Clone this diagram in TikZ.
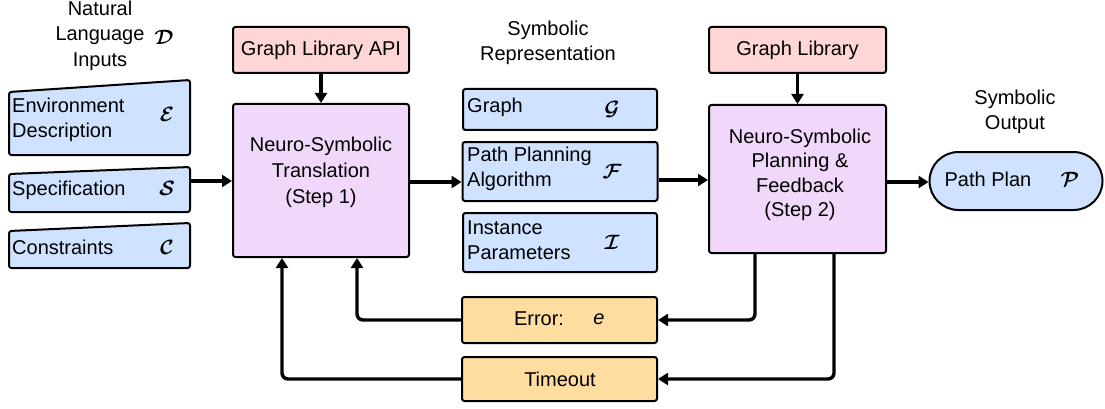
\documentclass[tikz,border=0pt]{standalone}
\usepackage{fontspec}
\usepackage{bm}
\setmainfont{Liberation Sans}
\usetikzlibrary{arrows.meta}
\definecolor{symblue}{HTML}{CFE2FF}
\definecolor{libpink}{HTML}{FFD6D6}
\definecolor{steplav}{HTML}{F1D8FA}
\definecolor{fbkorange}{HTML}{FFDDA1}
\newcommand{\setsym}[1]{$\bm{\mathcal{#1}}$}
\begin{document}
\begin{tikzpicture}[x=1pt,y=-1pt,
  box/.style={draw, line width=2pt, rounded corners=2.5pt, inner sep=0pt},
  bluebox/.style={box, fill=symblue},
  pinkbox/.style={box, fill=libpink},
  lavbox/.style={box, fill=steplav},
  orbox/.style={box, fill=fbkorange},
  conn/.style={line width=3.4pt, -{Triangle[length=10pt,width=12pt]}, rounded corners=6pt},
  txt/.style={font=\fontsize{20}{24.5}\selectfont, inner sep=0pt, align=center},
  ltxt/.style={txt, align=left, anchor=west},
  sym/.style={font=\fontsize{21}{24}\selectfont, inner sep=0pt},
]
\useasboundingbox (0,0) rectangle (1105,409);

% --- natural language inputs (slanted-top cards) ---
\node[txt, font=\fontsize{20}{25.5}\selectfont] (nlhead) at (100,35.5) {Natural\\Language\\Inputs};
\node[sym] (symD) at (164,37) {\setsym{D}};

\draw[bluebox] (9,92) -- (190,80) -- (190,155) -- (9,155) -- cycle;
\node[ltxt] (envtxt) at (12,120) {Environment\\Description};
\node[sym] (symE) at (167,114) {\setsym{E}};

\draw[bluebox] (9,174) -- (190,167) -- (190,212) -- (9,212) -- cycle;
\node[ltxt] (spectxt) at (12,190) {Specification};
\node[sym] (symS) at (167,188) {\setsym{S}};
\coordinate (specR) at (190,181);

\draw[bluebox] (9,231) -- (190,223) -- (190,268) -- (9,268) -- cycle;
\node[ltxt] (constxt) at (12,247) {Constraints};
\node[sym] (symC) at (167,247) {\setsym{C}};

% --- step 1 ---
\node[pinkbox, minimum width=176pt, minimum height=46pt] (gla) at (321,50) {};
\node[txt] at (gla) {Graph Library API};
\node[lavbox, minimum width=176pt, minimum height=153pt] (nst) at (321,180.5) {};
\node[txt, font=\fontsize{20}{26}\selectfont] (nsttxt) at (321,172) {Neuro-Symbolic\\Translation\\(Step 1)};

% --- symbolic representation ---
\node[txt, font=\fontsize{20}{25}\selectfont] (srhead) at (548,42.5) {Symbolic\\Representation};
\node[bluebox, minimum width=194pt, minimum height=41pt] (graph) at (560,109.5) {};
\node[ltxt] at (467,107) {Graph};
\node[sym] at (612,109) {\setsym{G}};
\node[bluebox, minimum width=195pt, minimum height=59pt] (ppa) at (560,171.5) {};
\node[ltxt] at (467,169) {Path Planning\\Algorithm};
\node[sym] at (612,171) {\setsym{F}};
\node[bluebox, minimum width=194pt, minimum height=59pt] (inst) at (560,242.5) {};
\node[ltxt] at (467,240) {Instance\\Parameters};
\node[sym] at (612,242) {\setsym{I}};

% --- step 2 ---
\node[pinkbox, minimum width=177pt, minimum height=46pt] (gl) at (797.5,50) {};
\node[txt] at (gl) {Graph Library};
\node[lavbox, minimum width=177pt, minimum height=148pt] (nsp) at (797.5,179) {};
\node[txt] (nsptxt) at (800,175) {Neuro-Symbolic\\Planning \&\\Feedback\\(Step 2)};

% --- symbolic output ---
\node[txt] (sohead) at (1015,112) {Symbolic\\Output};
\node[draw, line width=2pt, fill=symblue, minimum width=173pt, minimum height=58pt,
      rounded corners=29pt, inner sep=0pt] (pp) at (1016,181) {};
\node[txt] at (988,179) {Path Plan};
\node[sym] at (1070,179) {\setsym{P}};

% --- feedback ---
\node[orbox, minimum width=195pt, minimum height=46pt] (err) at (559.5,320) {};
\node[txt] at (539,319) {Error:};
\node[txt] at (599,319) {\itshape e};
\node[orbox, minimum width=195pt, minimum height=44pt] (tmo) at (559.5,379) {};
\node[txt] at (560,379) {Timeout};

% --- connectors ---
\draw[conn] (specR) -- (nst.west |- specR);
\draw[conn] (gla.south) -- (nst.north);
\draw[conn] (gl.south -| nsp.north) -- (nsp.north);
\draw[conn] (nst.east |- 0,182) -- (ppa.west |- 0,182);
\draw[conn] (ppa.east |- 0,180) -- (nsp.west |- 0,180);
\draw[conn] (nsp.east |- 0,182) -- (pp.west |- 0,182);
\draw[conn] (nsp.south -| 755,0) |- (err.east);
\draw[conn] (err.west) -| (nst.south -| 357,0);
\draw[conn] (nsp.south -| 834,0) |- (tmo.east);
\draw[conn] (tmo.west) -| (nst.south -| 282,0);
\end{tikzpicture}
\end{document}
